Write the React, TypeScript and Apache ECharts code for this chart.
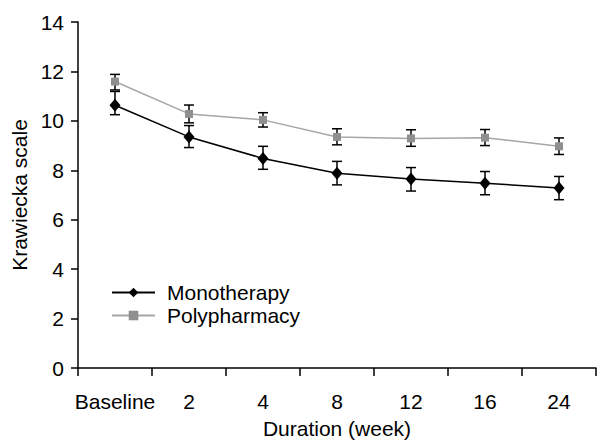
import React, { useEffect, useRef } from "react";
import * as echarts from "echarts";

const categories = ["Baseline", "2", "4", "8", "12", "16", "24"];
const monoMean = [10.63, 9.35, 8.48, 7.88, 7.65, 7.48, 7.28];
const monoLow = [10.25, 8.92, 8.04, 7.41, 7.16, 7.01, 6.81];
const monoHigh = [11.19, 9.81, 8.97, 8.36, 8.11, 7.95, 7.75];
const polyMean = [11.59, 10.28, 10.04, 9.35, 9.29, 9.32, 8.97];
const polyLow = [11.25, 9.92, 9.75, 9.03, 8.97, 9.0, 8.64];
const polyHigh = [11.88, 10.64, 10.33, 9.68, 9.64, 9.65, 9.31];

const FONT = "Liberation Sans, Arial, Helvetica, sans-serif";
const FS = 21;

function errData(low: number[], high: number[]) {
  return categories.map((_, i) => [i, low[i], high[i]]);
}

function errRender(params: any, api: any) {
  const x = api.value(0);
  const lo = api.coord([x, api.value(1)]);
  const hi = api.coord([x, api.value(2)]);
  const w = 5;
  const style = { stroke: "#000", lineWidth: 1.5 };
  return {
    type: "group",
    children: [
      { type: "line", shape: { x1: lo[0], y1: lo[1], x2: hi[0], y2: hi[1] }, style },
      { type: "line", shape: { x1: lo[0] - w, y1: lo[1], x2: lo[0] + w, y2: lo[1] }, style },
      { type: "line", shape: { x1: hi[0] - w, y1: hi[1], x2: hi[0] + w, y2: hi[1] }, style },
    ],
  };
}

export default function App() {
  const ref = useRef<HTMLDivElement>(null);
  useEffect(() => {
    if (!ref.current) return;
    const chart = echarts.init(ref.current, undefined, { renderer: "svg" });
    chart.setOption({
      animation: false,
      backgroundColor: "#fff",
      grid: { left: 78, right: 1, top: 22, bottom: 70, containLabel: false },
      legend: {
        left: 106,
        top: 277,
        orient: "vertical",
        itemWidth: 43,
        itemHeight: 12,
        itemGap: 2,
        textStyle: { fontFamily: FONT, fontSize: FS, color: "#000", padding: [0, 0, 0, 7] },
        data: ["Monotherapy", "Polypharmacy"],
      },
      xAxis: {
        type: "category",
        data: categories,
        boundaryGap: true,
        name: "Duration (week)",
        nameLocation: "middle",
        nameGap: 50,
        nameTextStyle: { fontFamily: FONT, fontSize: FS, color: "#000" },
        axisLine: { lineStyle: { color: "#000", width: 1.5 } },
        axisTick: { show: true, length: 8, alignWithLabel: false, lineStyle: { color: "#000", width: 1.5 } },
        axisLabel: { fontFamily: FONT, fontSize: FS, color: "#000", margin: 23, interval: 0 },
        splitLine: { show: false },
      },
      yAxis: {
        type: "value",
        min: 0,
        max: 14,
        interval: 2,
        name: "Krawiecka scale",
        nameLocation: "middle",
        nameGap: 47,
        nameRotate: 90,
        nameTextStyle: { fontFamily: FONT, fontSize: FS, color: "#000" },
        axisLine: { show: true, lineStyle: { color: "#000", width: 1.5 } },
        axisTick: { show: true, length: 7, lineStyle: { color: "#000", width: 1.5 } },
        axisLabel: { fontFamily: FONT, fontSize: FS, color: "#000", margin: 14 },
        splitLine: { show: false },
      },
      series: [
        {
          name: "MonoErr",
          type: "custom",
          renderItem: errRender,
          data: errData(monoLow, monoHigh),
          z: 1,
          silent: true,
        },
        {
          name: "PolyErr",
          type: "custom",
          renderItem: errRender,
          data: errData(polyLow, polyHigh),
          z: 1,
          silent: true,
        },
        {
          name: "Polypharmacy",
          type: "line",
          data: polyMean,
          symbol: "rect",
          symbolSize: 8,
          itemStyle: { color: "#8f8f8f" },
          lineStyle: { color: "#a6a6a6", width: 1.5 },
          z: 3,
        },
        {
          name: "Monotherapy",
          type: "line",
          data: monoMean,
          symbol: "diamond",
          symbolSize: [11, 13],
          itemStyle: { color: "#000" },
          lineStyle: { color: "#000", width: 1.5 },
          z: 4,
        },
      ],
    });
    return () => chart.dispose();
  }, []);
  return <div ref={ref} style={{ width: 597, height: 444, position: "absolute", left: 0, top: 0 }} />;
}
